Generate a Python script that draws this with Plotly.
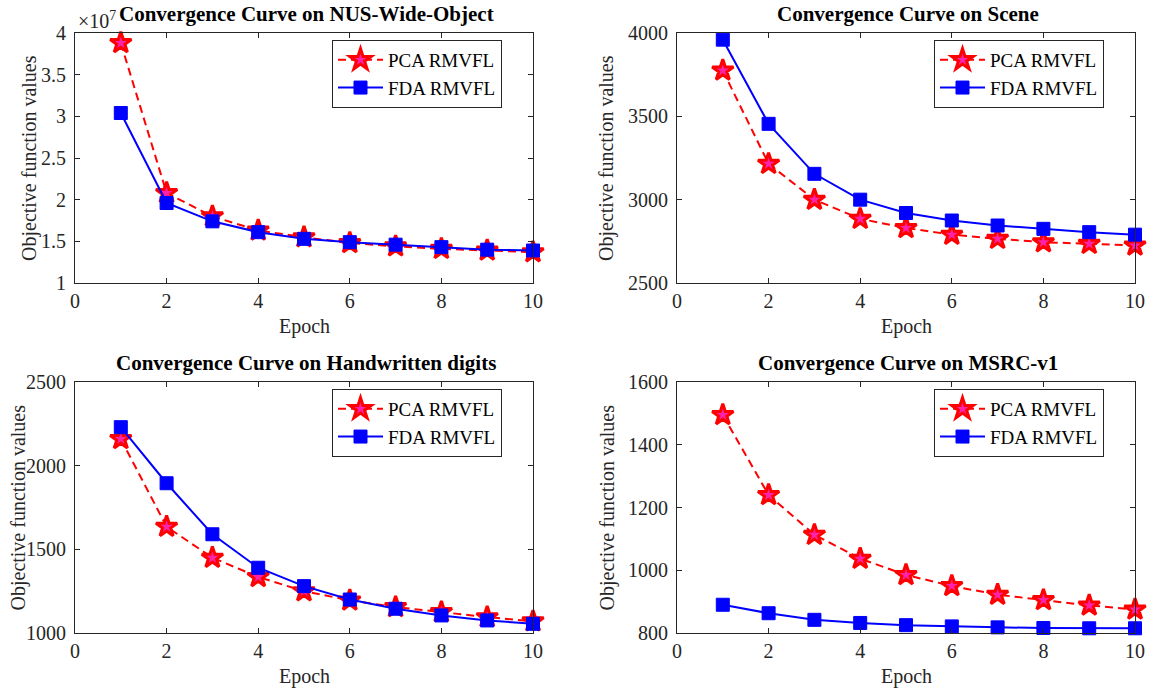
import plotly.graph_objects as go

W, H = 1151, 690

epochs = [1, 2, 3, 4, 5, 6, 7, 8, 9, 10]

# NUS-Wide-Object (actual values, axis shown in units of 1e7)
nus_pca = [3.88e7, 2.08e7, 1.80e7, 1.63e7, 1.55e7, 1.48e7, 1.44e7, 1.41e7, 1.39e7, 1.37e7]
nus_fda = [3.04e7, 1.96e7, 1.74e7, 1.61e7, 1.53e7, 1.49e7, 1.46e7, 1.43e7, 1.40e7, 1.39e7]

# Scene
scene_pca = [3775, 3215, 3000, 2885, 2830, 2790, 2765, 2745, 2735, 2725]
scene_fda = [3960, 3455, 3155, 3000, 2920, 2875, 2845, 2825, 2805, 2790]

# Handwritten digits
hw_pca = [2160, 1635, 1450, 1335, 1250, 1195, 1155, 1125, 1095, 1070]
hw_fda = [2230, 1895, 1590, 1390, 1280, 1200, 1145, 1105, 1075, 1055]

# MSRC-v1
msrc_pca = [1495, 1240, 1113, 1037, 985, 950, 922, 905, 888, 875]
msrc_fda = [890, 863, 842, 832, 825, 821, 818, 816, 815, 815]

titles = [
    "Convergence Curve on NUS-Wide-Object",
    "Convergence Curve on Scene",
    "Convergence Curve on Handwritten digits",
    "Convergence Curve on MSRC-v1",
]
series_names = ["PCA RMVFL", "FDA RMVFL"]
x_ticks = [0, 2, 4, 6, 8, 10]

y_ranges = [(1e7, 4e7), (2500, 4000), (1000, 2500), (800, 1600)]
y_tickvals = [
    [1e7, 1.5e7, 2e7, 2.5e7, 3e7, 3.5e7, 4e7],
    [2500, 3000, 3500, 4000],
    [1000, 1500, 2000, 2500],
    [800, 1000, 1200, 1400, 1600],
]
y_ticktext = [
    ["1", "1.5", "2", "2.5", "3", "3.5", "4"],
    ["2500", "3000", "3500", "4000"],
    ["1000", "1500", "2000", "2500"],
    ["800", "1000", "1200", "1400", "1600"],
]
data = [(nus_pca, nus_fda), (scene_pca, scene_fda), (hw_pca, hw_fda), (msrc_pca, msrc_fda)]

# panel boxes in pixels: (left, right, top, bottom)
boxes = [(75, 533, 33, 283), (677, 1135, 33, 283), (75, 533, 382, 633), (677, 1135, 382, 633)]
ylabel_x = [30, 607, 18, 607]

FONT = "Liberation Serif"
AX = "#262626"

def px(x):
    return x / W

def py(y):
    return 1 - y / H

fig = go.Figure()
annotations = []
layout = dict(
    template="none",
    width=W, height=H, margin=dict(l=0, r=0, t=0, b=0, autoexpand=False),
    paper_bgcolor="white", plot_bgcolor="white",
    font=dict(family=FONT, size=20, color=AX),
)

for i in range(4):
    l, r, t, b = boxes[i]
    n = "" if i == 0 else str(i + 1)
    xa, ya = "x" + n, "y" + n
    leg = "legend" if i == 0 else "legend" + str(i + 1)
    pca, fda = data[i]
    fig.add_trace(go.Scatter(
        x=epochs, y=pca, name=series_names[0], xaxis=xa, yaxis=ya, legend=leg,
        mode="lines+markers", cliponaxis=False,
        line=dict(color="#ff0000", width=2, dash="8px,5px"),
        marker=dict(symbol="star", size=16, color="#ff22aa", line=dict(color="#ff0000", width=3)),
    ))
    fig.add_trace(go.Scatter(
        x=epochs, y=fda, name=series_names[1], xaxis=xa, yaxis=ya, legend=leg,
        mode="lines+markers", cliponaxis=False,
        line=dict(color="#0000ff", width=2),
        marker=dict(symbol="square", size=13, color="#0000ff", line=dict(color="#0000ff", width=1)),
    ))
    common = dict(showline=True, linecolor=AX, linewidth=1, mirror="ticks", ticks="inside",
                  ticklen=5, tickcolor=AX, showgrid=False, zeroline=False, automargin=False,
                  tickfont=dict(family=FONT, size=20, color=AX))
    layout["xaxis" + n] = dict(common, domain=[px(l), px(r)], range=[0, 10], tickvals=x_ticks,
                               anchor=ya, ticklabelstandoff=0)
    layout["yaxis" + n] = dict(common, domain=[py(b), py(t)], range=list(y_ranges[i]),
                               tickvals=y_tickvals[i], ticktext=y_ticktext[i], anchor=xa,
                               ticklabelstandoff=4)
    layout[leg] = dict(x=px(r - 31), y=py(t + 7), xanchor="right", yanchor="top",
                       xref="paper", yref="paper", bgcolor="white", bordercolor=AX, borderwidth=1,
                       font=dict(family=FONT, size=19, color="black"), tracegroupgap=0,
                       itemwidth=45)
    annotations.append(dict(text="<b>" + titles[i] + "</b>", x=px((l + r) / 2 + 2), y=py(t - 19),
                            xref="paper", yref="paper", showarrow=False, xanchor="center",
                            yanchor="middle", font=dict(family=FONT, size=21, color="black")))
    annotations.append(dict(text="Epoch", x=px((l + r) / 2), y=py(b + 43), xref="paper", yref="paper",
                            showarrow=False, xanchor="center", yanchor="middle",
                            font=dict(family=FONT, size=20, color=AX)))
    annotations.append(dict(text="Objective function values", x=px(ylabel_x[i]), y=py((t + b) / 2),
                            xref="paper", yref="paper", showarrow=False, textangle=-90,
                            xanchor="center", yanchor="middle",
                            font=dict(family=FONT, size=20, color=AX)))

annotations.append(dict(text="×10<sup>7</sup>", x=px(76), y=py(20), xref="paper", yref="paper",
                        showarrow=False, xanchor="left", yanchor="middle",
                        font=dict(family=FONT, size=20, color=AX)))
layout["annotations"] = annotations
fig.update_layout(**layout)
fig.write_html("out.html")
